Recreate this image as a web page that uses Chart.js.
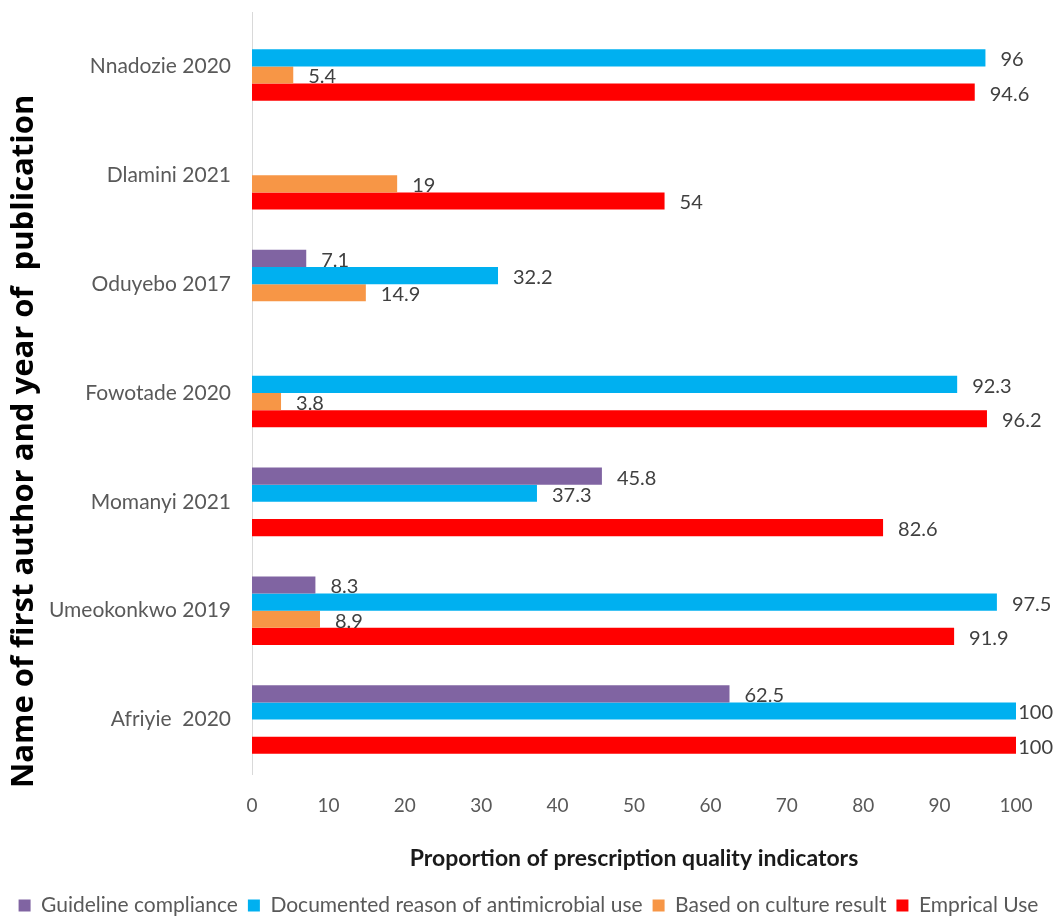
<!DOCTYPE html>
<html>
<head>
<meta charset="utf-8">
<script src="https://cdn.jsdelivr.net/npm/chart.js@4/dist/chart.umd.min.js"></script>
<style>
  body { margin: 0; background: #fff; }
  #wrap { width: 1057px; height: 918px; position: relative; }
</style>
</head>
<body>
<div id="wrap"><canvas id="chart"></canvas></div>
<script>
// categories, top to bottom
var authors = ['Nnadozie 2020', 'Dlamini 2021', 'Oduyebo 2017', 'Fowotade 2020',
               'Momanyi 2021', 'Umeokonkwo 2019', 'Afriyie  2020'];
var guidelineCompliance = [null, null, 7.1, null, 45.8, 8.3, 62.5];
var documentedReason    = [96, null, 32.2, 92.3, 37.3, 97.5, 100];
var cultureResult       = [5.4, 19, 14.9, 3.8, null, 8.9, null];
var empiricalUse        = [94.6, 54, null, 96.2, 82.6, 91.9, 100];
var seriesNames = ['Guideline compliance', 'Documented reason of antimicrobial use',
                   'Based on culture result', 'Emprical Use'];
var xTicks = [0, 10, 20, 30, 40, 50, 60, 70, 80, 90, 100];

var fontFam = 'Lato, "Open Sans", sans-serif';

// draws value labels to the right of each bar
var barValues = {
  id: 'barValues',
  afterDatasetsDraw: function(chart) {
    var ctx = chart.ctx;
    ctx.save();
    ctx.font = '20px ' + fontFam;
    ctx.fillStyle = '#404040';
    ctx.textBaseline = 'middle';
    ctx.textAlign = 'left';
    chart.data.datasets.forEach(function(ds, i) {
      var meta = chart.getDatasetMeta(i);
      meta.data.forEach(function(bar, j) {
        var v = ds.data[j];
        if (v === null || v === undefined) return;
        var txt = String(v);
        var w = ctx.measureText(txt).width;
        var x = Math.min(bar.x + 15, chart.width - w - 4);
        ctx.fillText(txt, x, bar.y + 2);
      });
    });
    ctx.restore();
  }
};

new Chart(document.getElementById('chart'), {
  type: 'bar',
  data: {
    labels: authors,
    datasets: [
      { label: seriesNames[0], data: guidelineCompliance, backgroundColor: '#8064A2' },
      { label: seriesNames[1], data: documentedReason, backgroundColor: '#00B0F0' },
      { label: seriesNames[2], data: cultureResult, backgroundColor: '#F79646' },
      { label: seriesNames[3], data: empiricalUse, backgroundColor: '#FF0000' }
    ]
  },
  options: {
    indexAxis: 'y',
    responsive: true,
    maintainAspectRatio: false,
    animation: false,
    categoryPercentage: 0.63,
    barPercentage: 1.0,
    layout: { padding: { top: 12, right: 0, left: 0, bottom: -8 } },
    scales: {
      x: {
        min: 0, max: 100,
        afterBuildTicks: function(scale) {
          scale.ticks = xTicks.map(function(v) { return { value: v }; });
        },
        afterFit: function(scale) {
          scale.height = 111;
          scale.paddingRight = 41;
        },
        grid: { display: false, drawTicks: false },
        border: { display: false },
        ticks: { color: '#595959', padding: 20, font: { family: fontFam, size: 19 } },
        title: {
          display: true,
          text: 'Proportion of prescription quality indicators',
          color: '#1a1a1a',
          padding: { top: 10, bottom: 13 },
          font: { family: fontFam, size: 23, weight: 'bold' }
        }
      },
      y: {
        afterFit: function(scale) {
          scale.width = 252;
          scale.paddingTop = 0;
          scale.paddingBottom = 0;
        },
        grid: { display: false, drawTicks: false },
        border: { display: true, color: '#d9d9d9', width: 1 },
        ticks: { color: '#595959', padding: 21, font: { family: fontFam, size: 21 } },
        title: {
          display: true,
          text: 'Name of first author and year of  publication            ',
          color: '#000',
          padding: { top: 6 },
          font: { family: '"Open Sans", sans-serif', size: 31, weight: 'bold' }
        }
      }
    },
    plugins: {
      legend: {
        position: 'bottom',
        align: 'center',
        labels: {
          color: '#595959',
          boxWidth: 12,
          boxHeight: 12,
          padding: 10,
          font: { family: fontFam, size: 21 }
        }
      },
      tooltip: { enabled: false }
    }
  },
  plugins: [barValues]
});
</script>
</body>
</html>
